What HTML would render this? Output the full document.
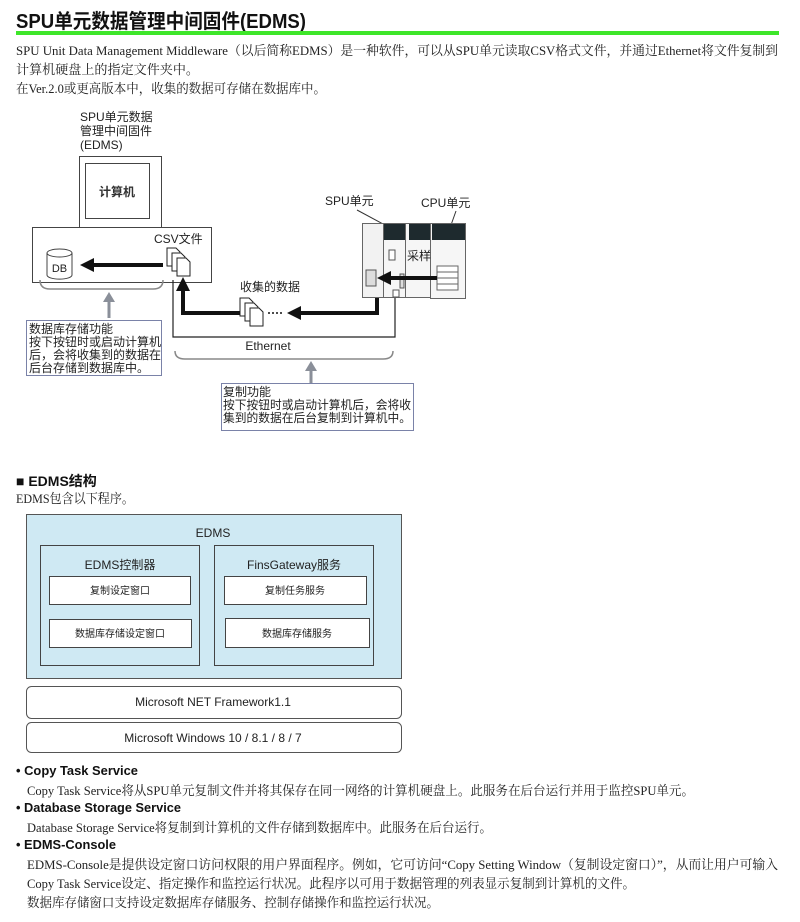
<!DOCTYPE html>
<html><head><meta charset="utf-8"><style>
body{margin:0;background:#fff;width:800px;height:922px;overflow:hidden}
svg{display:block}
.s{font-family:"Liberation Sans","Noto Sans CJK SC",sans-serif}
.r{font-family:"Liberation Serif","Noto Serif CJK SC",serif}
</style></head><body>
<svg width="800" height="922" viewBox="0 0 800 922" xmlns="http://www.w3.org/2000/svg">
<defs>
<g id="files">
<path d="M0 0h9l4 4v14h-13z" fill="#fff" stroke="#222" stroke-width="1"/>
<path d="M5 5h9l4 4v14h-13z" fill="#fff" stroke="#222" stroke-width="1"/>
<path d="M10 10h9l4 4v14h-13z" fill="#fff" stroke="#222" stroke-width="1"/>
</g>
</defs>
<!-- title -->
<text x="16" y="28" class="s" font-size="20" font-weight="bold" fill="#111" textLength="290" lengthAdjust="spacingAndGlyphs">SPU单元数据管理中间固件(EDMS)</text>
<rect x="16" y="31" width="763" height="4" fill="#3ee62a"/>
<g class="r" font-size="13" fill="#222">
<text x="16" y="55" textLength="762" lengthAdjust="spacingAndGlyphs">SPU Unit Data Management Middleware（以后简称EDMS）是一种软件，可以从SPU单元读取CSV格式文件，并通过Ethernet将文件复制到</text>
<text x="16" y="74" textLength="183" lengthAdjust="spacingAndGlyphs">计算机硬盘上的指定文件夹中。</text>
<text x="16" y="93" textLength="310" lengthAdjust="spacingAndGlyphs">在Ver.2.0或更高版本中，收集的数据可存储在数据库中。</text>
</g>
<!-- diagram -->
<g class="s" font-size="12" fill="#222">
<text x="80" y="121">SPU单元数据</text>
<text x="80" y="135">管理中间固件</text>
<text x="80" y="149">(EDMS)</text>
</g>
<rect x="79.5" y="156.5" width="82" height="71" fill="#fff" stroke="#444"/>
<rect x="85.5" y="163.5" width="64" height="55" fill="#fff" stroke="#444"/>
<text x="117" y="196" class="s" font-size="12" text-anchor="middle" font-weight="bold" fill="#333">计算机</text>
<rect x="32.5" y="227.5" width="179" height="55" fill="#fff" stroke="#444"/>
<text x="154" y="243" class="s" font-size="12" fill="#222">CSV文件</text>
<path d="M47 253v22a12 4 0 0 0 25 0v-22" fill="#fff" stroke="#444"/>
<ellipse cx="59.5" cy="253" rx="12.5" ry="4" fill="#fff" stroke="#444"/>
<text x="59.5" y="272" class="s" font-size="11" text-anchor="middle" fill="#222">DB</text>
<path d="M163 265H92" stroke="#111" stroke-width="4"/>
<path d="M80 265l14-7v14z" fill="#111"/>
<use href="#files" x="167" y="248"/>
<path d="M40 280q0 9 10 9h103q10 0 10-9" fill="none" stroke="#888" stroke-width="1.5"/>
<path d="M109 318V300" stroke="#8a8f99" stroke-width="3"/>
<path d="M109 292l-6 10h12z" fill="#8a8f99"/>
<rect x="26.5" y="320.5" width="135" height="55" fill="#fff" stroke="#7a82a8"/>
<g class="s" font-size="12" fill="#222">
<text x="29" y="333">数据库存储功能</text>
<text x="29" y="346">按下按钮时或启动计算机</text>
<text x="29" y="359">后，会将收集到的数据在</text>
<text x="29" y="372">后台存储到数据库中。</text>
</g>
<!-- ethernet -->
<path d="M173 280V337H395V292" fill="none" stroke="#222" stroke-width="1.2"/>
<text x="268" y="350" class="s" font-size="12" text-anchor="middle" fill="#222">Ethernet</text>
<path d="M175 351q0 8 10 8h198q10 0 10-8" fill="none" stroke="#888" stroke-width="1.5"/>
<path d="M311 383V369" stroke="#8a8f99" stroke-width="3"/>
<path d="M311 361l-6 10h12z" fill="#8a8f99"/>
<rect x="221.5" y="383.5" width="192" height="47" fill="#fff" stroke="#7a82a8"/>
<g class="s" font-size="12" fill="#222">
<text x="223" y="396">复制功能</text>
<text x="223" y="409" textLength="188" lengthAdjust="spacingAndGlyphs">按下按钮时或启动计算机后，会将收</text>
<text x="223" y="422" textLength="188" lengthAdjust="spacingAndGlyphs">集到的数据在后台复制到计算机中。</text>
</g>
<!-- thick path -->
<path d="M377 287V313H298" fill="none" stroke="#111" stroke-width="4"/>
<path d="M287 313l14-7v14z" fill="#111"/>
<path d="M268 313H283" stroke="#111" stroke-width="1.5" stroke-dasharray="2 2"/>
<use href="#files" x="240" y="298"/>
<path d="M240 313H183V290" fill="none" stroke="#111" stroke-width="4"/>
<path d="M183 277l-7 14h14z" fill="#111"/>
<text x="240" y="291" class="s" font-size="12" fill="#222">收集的数据</text>
<!-- PLC -->
<text x="325" y="205" class="s" font-size="12" fill="#222">SPU单元</text>
<text x="421" y="207" class="s" font-size="12" fill="#222">CPU单元</text>
<path d="M357 210L383 224M456 211L451 225" stroke="#333"/>
<rect x="362.5" y="223.5" width="21" height="74" fill="#f2f2f2" stroke="#666"/>
<rect x="383.5" y="223.5" width="22" height="74" fill="#f6f6f6" stroke="#666"/>
<rect x="405.5" y="223.5" width="25" height="74" fill="#f6f6f6" stroke="#666"/>
<rect x="430.5" y="223.5" width="35" height="75" fill="#f6f6f6" stroke="#666"/>
<rect x="384" y="224" width="21" height="16" fill="#1e2a2e"/>
<rect x="409" y="224" width="21" height="16" fill="#1e2a2e"/>
<rect x="432" y="224" width="33" height="16" fill="#1e2a2e"/>
<rect x="389" y="250" width="6" height="10" fill="#fff" stroke="#555"/>
<text x="407" y="260" class="s" font-size="12" fill="#222">采样</text>
<rect x="366" y="270" width="10" height="16" fill="#ddd" stroke="#555"/>
<rect x="400" y="274" width="4" height="14" fill="#ddd" stroke="#555"/>
<rect x="393" y="290" width="6" height="7" fill="#fff" stroke="#555"/>
<g fill="#fff" stroke="#666"><rect x="437" y="266" width="21" height="6"/><rect x="437" y="272" width="21" height="6"/><rect x="437" y="278" width="21" height="6"/><rect x="437" y="284" width="21" height="6"/></g>
<path d="M437 278H390" stroke="#111" stroke-width="4"/>
<path d="M377 278l14-7v14z" fill="#111"/>
<!-- EDMS structure -->
<text x="16" y="486" class="s" font-size="14" font-weight="bold" fill="#111">■ EDMS结构</text>
<text x="16" y="503" class="r" font-size="13" fill="#222" textLength="118" lengthAdjust="spacingAndGlyphs">EDMS包含以下程序。</text>
<rect x="26.5" y="514.5" width="375" height="164" fill="#cfe9f3" stroke="#555"/>
<text x="213" y="537" class="s" font-size="12" text-anchor="middle" fill="#222">EDMS</text>
<rect x="40.5" y="545.5" width="159" height="120" fill="none" stroke="#444"/>
<rect x="214.5" y="545.5" width="159" height="120" fill="none" stroke="#444"/>
<text x="120" y="569" class="s" font-size="12" text-anchor="middle" fill="#222">EDMS控制器</text>
<text x="294" y="569" class="s" font-size="12" text-anchor="middle" fill="#222">FinsGateway服务</text>
<g fill="#fff" stroke="#444"><rect x="49.5" y="576.5" width="141" height="28"/><rect x="49.5" y="619.5" width="142" height="28"/><rect x="224.5" y="576.5" width="142" height="28"/><rect x="225.5" y="618.5" width="144" height="29"/></g>
<g class="s" font-size="10" text-anchor="middle" fill="#222">
<text x="120" y="594">复制设定窗口</text>
<text x="120" y="637">数据库存储设定窗口</text>
<text x="295" y="594">复制任务服务</text>
<text x="297" y="637">数据库存储服务</text>
</g>
<rect x="26.5" y="686.5" width="375" height="32" rx="5" fill="#fff" stroke="#555"/>
<rect x="26.5" y="722.5" width="375" height="30" rx="5" fill="#fff" stroke="#555"/>
<text x="213" y="706" class="s" font-size="12" text-anchor="middle" fill="#222">Microsoft NET Framework1.1</text>
<text x="213" y="742" class="s" font-size="12" text-anchor="middle" fill="#222">Microsoft Windows 10 / 8.1 / 8 / 7</text>
<!-- bullets -->
<g class="s" font-size="13" font-weight="bold" fill="#111">
<text x="16" y="775" textLength="122" lengthAdjust="spacingAndGlyphs">• Copy Task Service</text>
<text x="16" y="812" textLength="165" lengthAdjust="spacingAndGlyphs">• Database Storage Service</text>
<text x="16" y="849" textLength="100" lengthAdjust="spacingAndGlyphs">• EDMS-Console</text>
</g>
<g class="r" font-size="13" fill="#222">
<text x="27" y="795" textLength="667" lengthAdjust="spacingAndGlyphs">Copy Task Service将从SPU单元复制文件并将其保存在同一网络的计算机硬盘上。此服务在后台运行并用于监控SPU单元。</text>
<text x="27" y="832" textLength="465" lengthAdjust="spacingAndGlyphs">Database Storage Service将复制到计算机的文件存储到数据库中。此服务在后台运行。</text>
<text x="27" y="869" textLength="751" lengthAdjust="spacingAndGlyphs">EDMS-Console是提供设定窗口访问权限的用户界面程序。例如，它可访问“Copy Setting Window（复制设定窗口）”，从而让用户可输入</text>
<text x="27" y="888" textLength="608" lengthAdjust="spacingAndGlyphs">Copy Task Service设定、指定操作和监控运行状况。此程序以可用于数据管理的列表显示复制到计算机的文件。</text>
<text x="27" y="907" textLength="412" lengthAdjust="spacingAndGlyphs">数据库存储窗口支持设定数据库存储服务、控制存储操作和监控运行状况。</text>
</g>
</svg>
</body></html>
